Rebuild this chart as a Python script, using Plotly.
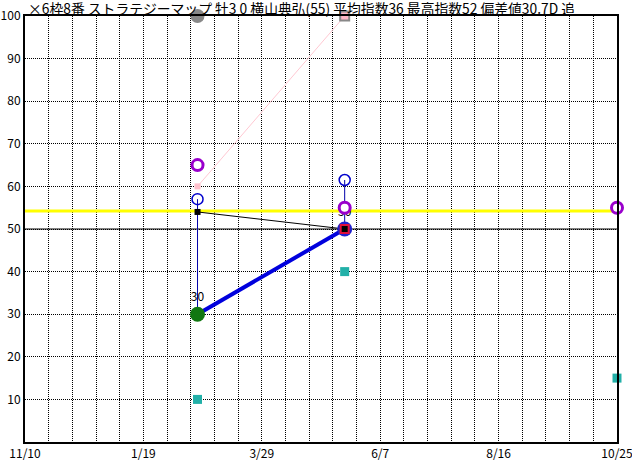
import plotly.graph_objects as go

# ---- data ----
tick_dates = ["2019-11-10", "2020-01-19", "2020-03-29", "2020-06-07", "2020-08-16", "2020-10-25"]
tick_labels = ["11/10", "1/19", "3/29", "6/7", "8/16", "10/25"]
y_ticks = [10, 20, 30, 40, 50, 60, 70, 80, 90, 100]

race_dates = ["2020-02-20", "2020-05-17", "2020-10-25"]

grey_x = [race_dates[0]]
grey_y = [100]
pink_x = [race_dates[0], race_dates[1]]
pink_y = [60, 100]
purple_x = race_dates
purple_y = [65, 55, 55]
blue_open_x = [race_dates[0], race_dates[1]]
blue_open_y = [57, 61.5]
black_x = [race_dates[0], race_dates[1]]
black_y = [54, 50]
green_x = [race_dates[0]]
green_y = [30]
green_text = ["30"]
mid_x = [race_dates[1]]
mid_y = [50]
mid_text = ["50"]
cyan_x = race_dates
cyan_y = [10, 40, 15]
trend_x = [race_dates[0], race_dates[1]]
trend_y = [30, 50]
yellow_level = 54.2
black_level = 50

title = "×6枠8番 ストラテジーマップ 牡3 0 横山典弘(55) 平均指数36 最高指数52 偏差値30.7D 追"

FONT = "Noto Sans CJK JP"
W, H = 632, 460
ML, MR, MT, MB = 25, 15, 16, 18

fig = go.Figure()

# reference horizontal lines
fig.add_trace(go.Scatter(x=[tick_dates[0], tick_dates[-1]], y=[yellow_level, yellow_level],
                         mode="lines", line=dict(color="#FFFF00", width=3), hoverinfo="skip"))
fig.add_trace(go.Scatter(x=[tick_dates[0], tick_dates[-1]], y=[black_level, black_level],
                         mode="lines", line=dict(color="black", width=1), hoverinfo="skip"))

# pink line
fig.add_trace(go.Scatter(x=pink_x, y=pink_y, mode="lines",
                         line=dict(color="#FFC8D2", width=1), hoverinfo="skip"))

# vertical thin blue lines
bottoms = [green_y[0], mid_y[0]]
for i in range(2):
    fig.add_trace(go.Scatter(x=[blue_open_x[i], blue_open_x[i]],
                             y=[blue_open_y[i], bottoms[i]],
                             mode="lines", line=dict(color="#0000AA", width=1), hoverinfo="skip"))

# black thin line
fig.add_trace(go.Scatter(x=black_x, y=black_y, mode="lines",
                         line=dict(color="black", width=1), hoverinfo="skip"))

# thick blue trend line
fig.add_trace(go.Scatter(x=trend_x, y=trend_y, mode="lines",
                         line=dict(color="#0000DD", width=4), hoverinfo="skip"))

# cyan squares
fig.add_trace(go.Scatter(x=cyan_x, y=cyan_y, mode="markers", cliponaxis=False,
                         marker=dict(symbol="square", size=9, color="#22B0A8")))

# middle: blue circle + red square with label
fig.add_trace(go.Scatter(x=mid_x, y=mid_y, mode="markers+text", text=mid_text,
                         textposition="top center", textfont=dict(family=FONT, size=12, color="black"),
                         marker=dict(symbol="circle", size=15, color="#2020CC")))
fig.add_trace(go.Scatter(x=mid_x, y=mid_y, mode="markers",
                         marker=dict(symbol="square", size=10, color="#E0103A")))

# green circle with label
fig.add_trace(go.Scatter(x=green_x, y=green_y, mode="markers+text", text=green_text,
                         textposition="top center", textfont=dict(family=FONT, size=12, color="black"),
                         marker=dict(symbol="circle", size=15, color="#117711")))

# black small squares
fig.add_trace(go.Scatter(x=black_x, y=black_y, mode="markers",
                         marker=dict(symbol="square", size=6, color="black")))

# blue open circles
fig.add_trace(go.Scatter(x=blue_open_x, y=blue_open_y, mode="markers",
                         marker=dict(symbol="circle-open", size=11, color="#0000CC", line=dict(width=1.5))))

# pink squares
fig.add_trace(go.Scatter(x=[pink_x[0]], y=[pink_y[0]], mode="markers",
                         marker=dict(symbol="square", size=6, color="#FFC0CB")))
fig.add_trace(go.Scatter(x=[pink_x[1]], y=[pink_y[1]], mode="markers", cliponaxis=False,
                         marker=dict(symbol="square", size=9, color="#FFB6C8",
                                     line=dict(color="#888888", width=2))))

# grey circle
fig.add_trace(go.Scatter(x=grey_x, y=grey_y, mode="markers", cliponaxis=False,
                         marker=dict(symbol="circle", size=14, color="#888888")))

# purple rings
fig.add_trace(go.Scatter(x=purple_x, y=purple_y, mode="markers", cliponaxis=False,
                         marker=dict(symbol="circle", size=11, color="white",
                                     line=dict(color="#9900CC", width=3))))

fig.update_layout(
    width=W, height=H,
    margin=dict(l=ML, r=MR, t=MT, b=MB),
    paper_bgcolor="white", plot_bgcolor="white",
    showlegend=False,
    font=dict(family=FONT, size=12, color="black"),
    annotations=[dict(text=title, xref="paper", yref="paper",
                      x=(27 - ML) / (W - ML - MR), y=1 + (MT - 8.5) / (H - MT - MB),
                      showarrow=False, xanchor="left", yanchor="middle",
                      borderpad=0, font=dict(family=FONT, size=13.8, color="black"))],
)

DOT = "1px,1px"
fig.update_xaxes(
    type="date", range=[tick_dates[0], tick_dates[-1]],
    tickmode="array", tickvals=tick_dates, ticktext=tick_labels,
    ticks="", showline=True, linecolor="black", linewidth=2, mirror=True,
    showgrid=True, gridcolor="black", gridwidth=1, griddash=DOT,
    minor=dict(dtick=14 * 86400000, tick0=tick_dates[0], showgrid=True,
               gridcolor="black", gridwidth=1, griddash=DOT),
    zeroline=False, automargin=False, ticklabeloverflow="allow",
    tickfont=dict(family=FONT, size=12),
)
fig.update_yaxes(
    range=[0, 100], tickmode="array", tickvals=y_ticks,
    ticks="", showline=True, linecolor="black", linewidth=2, mirror=True,
    showgrid=True, gridcolor="black", gridwidth=1, griddash=DOT,
    zeroline=False, automargin=False, tickfont=dict(family=FONT, size=12),
)

fig.write_html("out.html", config={"displayModeBar": False},
               post_script="document.body.style.margin='0';")
